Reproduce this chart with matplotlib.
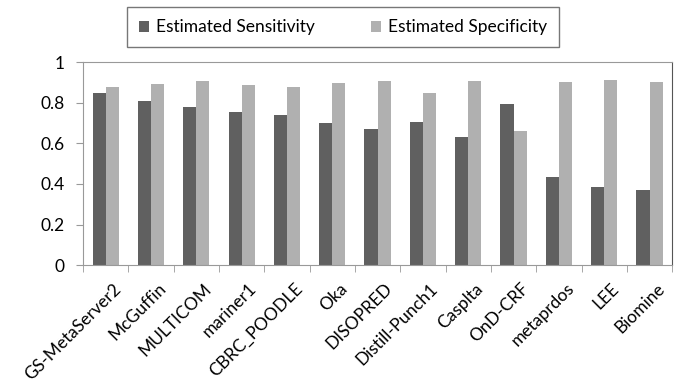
import matplotlib.pyplot as plt
import numpy as np

methods = ["GS-MetaServer2", "McGuffin", "MULTICOM", "mariner1", "CBRC_POODLE",
           "Oka", "DISOPRED", "Distill-Punch1", "Casplta", "OnD-CRF",
           "metaprdos", "LEE", "Biomine"]
sensitivity = [0.850, 0.811, 0.781, 0.755, 0.740, 0.701, 0.669, 0.706,
               0.633, 0.794, 0.436, 0.383, 0.372]
specificity = [0.877, 0.890, 0.905, 0.886, 0.877, 0.896, 0.908, 0.850,
               0.908, 0.663, 0.900, 0.911, 0.903]

plt.rcParams["font.family"] = ["Lato", "DejaVu Sans"]

fig = plt.figure(figsize=(6.86, 3.86), dpi=100)
ax = fig.add_axes([0.121, 0.313, 0.859, 0.526])

x = np.arange(len(methods))
w = 0.29
ax.bar(x - w / 2, sensitivity, w, color="#606060", label="Estimated Sensitivity")
ax.bar(x + w / 2, specificity, w, color="#b0b0b0", label="Estimated Specificity")

ax.set_xlim(-0.5, len(methods) - 0.5)
ax.set_ylim(0, 1)
ax.set_yticks([0, 0.2, 0.4, 0.6, 0.8, 1])
ax.set_yticklabels(["0", "0.2", "0.4", "0.6", "0.8", "1"], fontsize=12.5)

ax.set_xticks(x + 0.15)
ax.set_xticklabels(methods, rotation=45, ha="right", rotation_mode="anchor", fontsize=12.5)
ax.tick_params(axis="x", length=0, pad=11)
ax.set_xticks(np.arange(len(methods) + 1) - 0.5, minor=True)
ax.tick_params(axis="x", which="minor", length=5, color="#999999")
ax.tick_params(axis="y", length=5, color="#999999", pad=8)

for s in ["left", "bottom", "top"]:
    ax.spines[s].set_color("#999999")
ax.spines["right"].set_color("#555555")

fig.legend(loc="upper center", bbox_to_anchor=(0.5, 0.995), ncol=2, fontsize=12.5,
           frameon=True, fancybox=False, edgecolor="#555555", handlelength=0.6,
           handleheight=0.6, columnspacing=3.2, borderpad=0.7, handletextpad=0.4,
           borderaxespad=0.3)

fig.savefig("out.png", dpi=100)
